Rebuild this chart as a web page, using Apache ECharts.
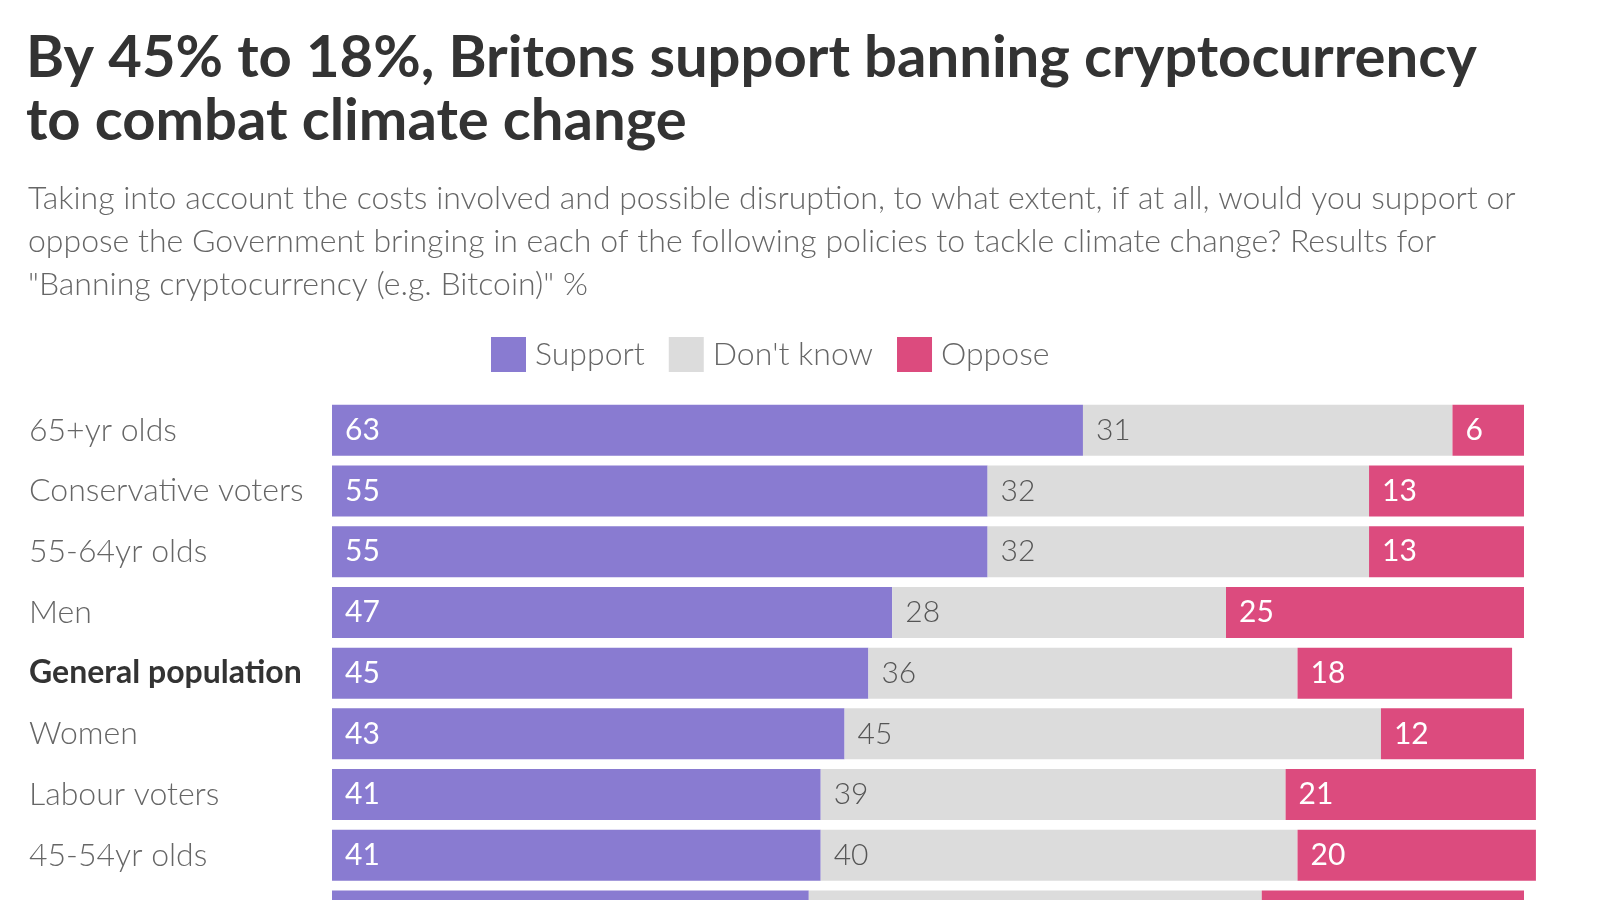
<!DOCTYPE html>
<html>
<head>
<meta charset="utf-8">
<script src="https://cdn.jsdelivr.net/npm/echarts@6/dist/echarts.min.js"></script>
<style>
html,body{margin:0;padding:0;background:#fff;}
#chart{width:1600px;height:900px;}
</style>
</head>
<body>
<div id="chart"></div>
<script>
const titleText = 'By 45% to 18%, Britons support banning cryptocurrency\nto combat climate change';
const subtitleText = 'Taking into account the costs involved and possible disruption, to what extent, if at all, would you support or\noppose the Government bringing in each of the following policies to tackle climate change? Results for\n"Banning cryptocurrency (e.g. Bitcoin)" %';
const categories = ['65+yr olds','Conservative voters','55-64yr olds','Men','General population','Women','Labour voters','45-54yr olds','35-44yr olds'];
const seriesNames = ['Support', "Don't know", 'Oppose'];
const support  = [63, 55, 55, 47, 45, 43, 41, 41, 40];
const dontKnow = [31, 32, 32, 28, 36, 45, 39, 40, 38];
const oppose   = [6, 13, 13, 25, 18, 12, 21, 20, 22];
const highlight = 'General population';

const FONT = 'Lato';
const colors = ['#897bd1', '#dcdcdc', '#dc4b7e'];
const labelColors = ['#ffffff', '#555555', '#ffffff'];
const values = [support, dontKnow, oppose];

const chart = echarts.init(document.getElementById('chart'), null, {renderer: 'canvas'});
const option = {
  backgroundColor: '#ffffff',
  animation: false,
  textStyle: {fontFamily: FONT},
  title: [
    {
      text: titleText,
      left: 26, top: 27, padding: 0,
      textStyle: {fontFamily: FONT, fontSize: 58, fontWeight: 700, color: '#333333', lineHeight: 63}
    },
    {
      text: subtitleText,
      left: 28, top: 177, padding: 0,
      textStyle: {fontFamily: FONT, fontSize: 32, fontWeight: 300, color: '#666666', lineHeight: 43}
    }
  ],
  legend: {
    left: 491, top: 337, padding: 0,
    itemWidth: 35, itemHeight: 35, itemGap: 24,
    icon: 'rect',
    textStyle: {fontFamily: FONT, fontSize: 32, fontWeight: 300, color: '#666666', padding: [0, 0, 0, 4]},
    data: seriesNames
  },
  grid: {
    left: 332, top: 400, width: 1192, height: 546.3,
    containLabel: false, outerBoundsMode: 'none'
  },
  xAxis: {
    type: 'value', min: 0, max: 100,
    show: false
  },
  yAxis: {
    type: 'category', inverse: true, data: categories,
    axisLine: {show: false}, axisTick: {show: false}, splitLine: {show: false},
    axisLabel: {
      align: 'left', margin: 303,
      fontFamily: FONT, fontSize: 32, color: '#666666', fontWeight: 300,
      formatter: function (v) { return v === highlight ? '{b|' + v + '}' : v; },
      rich: {b: {fontFamily: FONT, fontSize: 32, fontWeight: 700, color: '#333333'}}
    }
  },
  series: seriesNames.map(function (name, i) {
    return {
      name: name, type: 'bar', stack: 'total',
      barWidth: 51, clip: false,
      itemStyle: {color: colors[i]},
      label: {
        show: true, position: 'insideLeft', distance: 13,
        fontFamily: FONT, fontSize: 30, fontWeight: i === 1 ? 300 : 400, color: labelColors[i]
      },
      data: values[i]
    };
  })
};
chart.setOption(option);
</script>
</body>
</html>
